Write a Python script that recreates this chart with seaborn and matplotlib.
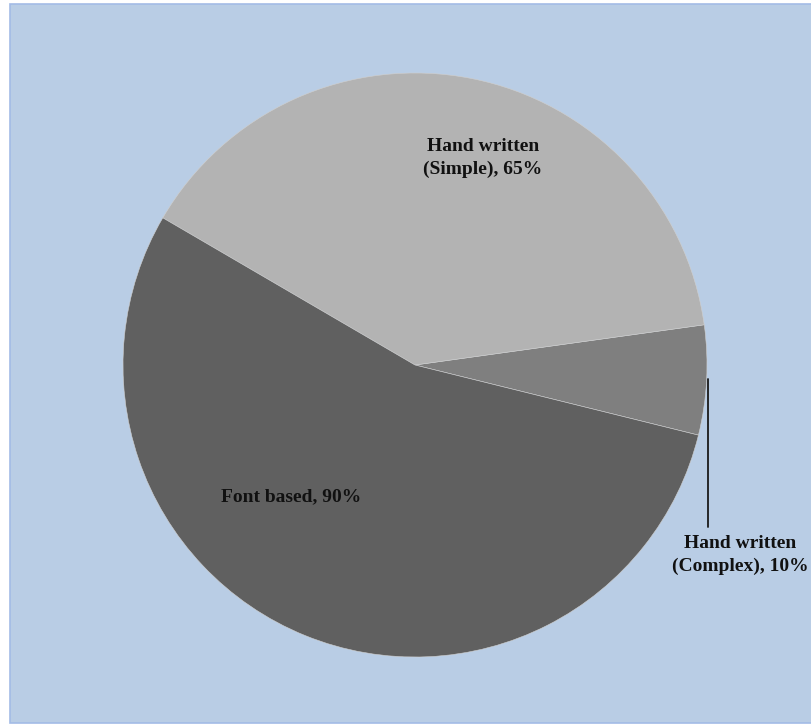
import matplotlib
matplotlib.use("Agg")
import matplotlib.pyplot as plt
import seaborn as sns
from matplotlib.patches import Rectangle

categories = ["Hand written\n(Complex)", "Hand written\n(Simple)", "Font based"]
values = [10, 65, 90]
colors = ["#7f7f7f", "#b3b3b3", "#606060"]

sns.set_theme(style="white")
plt.rcParams["font.family"] = ["Liberation Serif", "DejaVu Serif"]

fig = plt.figure(figsize=(8.12, 7.25), dpi=100, facecolor="white")
fig.patches.append(Rectangle((10 / 812, 2 / 725), 1 - 10 / 812, 719 / 725,
                             transform=fig.transFigure, facecolor="#b9cde5",
                             edgecolor="#a3bbe6", linewidth=1.2, zorder=-10))

ax = fig.add_axes([123 / 812, 68 / 725, 584 / 812, 584 / 725])
ax.set_zorder(5)
ax.set_facecolor("none")
wedges, _ = ax.pie(values, colors=colors, startangle=-13.9, counterclock=True,
                   radius=1.0, wedgeprops=dict(edgecolor="#d0d0d0", linewidth=0.4))
ax.set_xlim(-1, 1)
ax.set_ylim(-1, 1)
ax.set_aspect("equal")
ax.axis("off")

fs = 14
kw = dict(ha="center", va="center", fontsize=fs, fontweight="bold", color="#111111",
          linespacing=1.38)
ax.text(0.233, 0.709, f"Hand written\n(Simple), {values[1]}%", **kw)
ax.text(-0.425, -0.452, f"Font based, {values[2]}%", **kw)
t = ax.text(1.113, -0.651, f"Hand written\n(Complex), {values[0]}%", **kw)
t.set_clip_on(False)
ax.plot([1.003, 1.003], [-0.048, -0.555], color="#1a1a1a", linewidth=1.3, clip_on=False)

fig.savefig("out.png", dpi=100, facecolor="white")
